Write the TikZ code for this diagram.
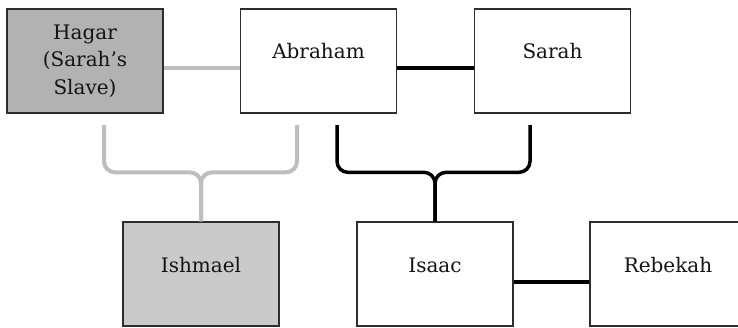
\documentclass[tikz,border=0pt]{standalone}
\usepackage{fontspec}
\setmainfont{DejaVu Serif}
\usetikzlibrary{shadows}
\definecolor{hagarfill}{RGB}{178,178,178}
\definecolor{ishfill}{RGB}{202,202,202}
\definecolor{glinec}{RGB}{190,190,190}
\definecolor{boxline}{RGB}{45,45,45}
\definecolor{txt}{RGB}{20,20,20}
\begin{document}
\begin{tikzpicture}[x=1pt,y=-1pt,
  person/.style={draw=boxline, line width=1.3pt, minimum width=156pt, minimum height=104pt,
    inner sep=0pt, fill=white,
    drop shadow={shadow xshift=0.8pt, shadow yshift=-1.2pt, fill=black, opacity=0.25}},
  pname/.style={inner sep=0pt, font=\fontsize{20}{27.5}\selectfont, text=txt, align=center},
  gline/.style={line width=4pt, draw=glinec},
  bline/.style={line width=3.5pt, draw=black}
]
\useasboundingbox[fill=white] (0,0) rectangle (738,327);
% boxes
\node[person, fill=hagarfill] (hagar) at (85,61) {};
\node[person] (abraham) at (318.5,61) {};
\node[person] (sarah) at (552.5,61) {};
\node[person, fill=ishfill] (ishmael) at (201,274) {};
\node[person] (isaac) at (435,274) {};
\node[person] (rebekah) at (668,274) {};
% labels
\node[pname, anchor=north] (thagar) at ([yshift=-16pt]hagar.north) {Hagar\\(Sarah’s\\Slave)};
\node[pname, anchor=base] (tabraham) at ([yshift=-50pt]abraham.north) {Abraham};
\node[pname, anchor=base] (tsarah) at ([yshift=-50pt]sarah.north) {Sarah};
\node[pname, anchor=base] (tishmael) at ([yshift=-51pt]ishmael.north) {Ishmael};
\node[pname, anchor=base] (tisaac) at ([yshift=-51pt]isaac.north) {Isaac};
\node[pname, anchor=base] (trebekah) at ([yshift=-51pt]rebekah.north) {Rebekah};
% marriage lines
\draw[gline] ([yshift=-7pt]hagar.east) -- ([yshift=-7pt]abraham.west);
\draw[bline] ([yshift=-7pt]abraham.east) -- ([yshift=-7pt]sarah.west);
\draw[bline] ([yshift=-8pt]isaac.east) -- ([yshift=-8pt]rebekah.west);
% gray brace
\coordinate (gl) at (104,125);
\coordinate (gr) at (297,125);
\path (ishmael.north) ++(0,-49) coordinate (gj);
\draw[gline, rounded corners=11pt] (gl) |- (gj) -- (ishmael.north);
\draw[gline, rounded corners=11pt] (gr) |- (gj) -- (ishmael.north);
% black brace
\coordinate (bl) at (337,125);
\coordinate (br) at (530,125);
\path (isaac.north) ++(0,-49) coordinate (bj);
\draw[bline, rounded corners=11pt] (bl) |- (bj) -- (isaac.north);
\draw[bline, rounded corners=11pt] (br) |- (bj) -- (isaac.north);
\end{tikzpicture}
\end{document}
